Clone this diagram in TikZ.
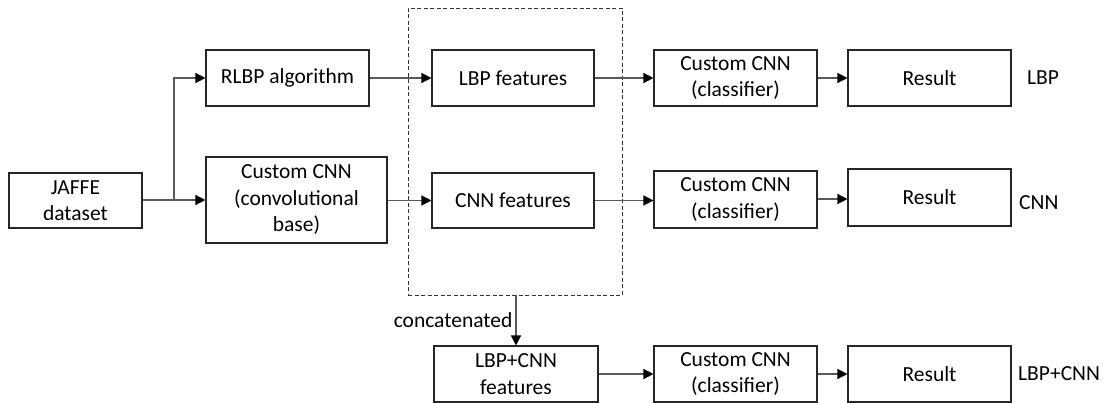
\documentclass[tikz,border=0pt]{standalone}
\usepackage{fontspec}
\setmainfont{Carlito}
\usetikzlibrary{arrows.meta,positioning}
\begin{document}
\begin{tikzpicture}[x=1pt,y=-1pt,
  every node/.style={font=\fontsize{21.5}{26.5}\selectfont},
  box/.style={draw=black!85, line width=1.1pt, inner sep=0pt, align=center,
              minimum width=163pt, minimum height=56pt},
  link/.style={draw=black!65, line width=1.3pt,
               -{Triangle[length=10pt,width=10pt,color=black]}},
  plain/.style={draw=black!65, line width=1.3pt},
  grp/.style={draw=black!80, line width=0.9pt, dash pattern=on 4pt off 2.5pt}]
  \useasboundingbox (0,0) rectangle (1105,403);

  % input and the two extraction branches
  \node[box, minimum width=133pt, minimum height=55pt] (jaffe) at (75.5,200.5) {JAFFE\\dataset};
  \node[box] (rlbp) at (287.5,78) {RLBP algorithm};
  \node[box, minimum width=181pt, minimum height=86pt] (conv) at (296.5,200) {Custom CNN\\(convolutional\\base)};

  % feature sets
  \node[box, minimum width=162pt] (lbpf) at (513,78) {LBP features};
  \node[box, minimum width=162pt, minimum height=55pt] (cnnf) at (513,200.5) {CNN features};
  \node[grp, inner sep=0pt, minimum width=214pt, minimum height=287pt] (grpbox) at (515,151.5) {};
  \node[box, minimum width=164pt] (both) at (516,374) {LBP+CNN\\features};

  % classifiers
  \node[box] (clf1) at (735.5,78) {Custom CNN\\(classifier)};
  \node[box, minimum height=57pt] (clf2) at (735.5,199.5) {Custom CNN\\(classifier)};
  \node[box] (clf3) at (735.5,374) {Custom CNN\\(classifier)};

  % results
  \node[box] (res1) at (929.5,78) {Result};
  \node[box, minimum height=57pt] (res2) at (929.5,197.5) {Result};
  \node[box] (res3) at (929.5,374) {Result};

  % row labels
  \node[anchor=west, inner sep=0pt] (lab1) at (1027,78) {LBP};
  \node[anchor=west, inner sep=0pt] (lab2) at (1019,203) {CNN};
  \node[anchor=west, inner sep=0pt] (lab3) at (1018,374) {LBP+CNN};

  % connectors
  \coordinate (split) at (174,200);
  \draw[plain] (jaffe.east |- split) -- (split);
  \draw[link] (split) -- (conv.west |- split);
  \draw[link] (split) |- (rlbp.west);
  \draw[link] (rlbp.east) -- (lbpf.west);
  \draw[link] (conv.east |- cnnf.west) -- (cnnf.west);
  \draw[link] (lbpf.east) -- (clf1.west);
  \draw[link] (cnnf.east) -- (cnnf.east -| clf2.west);
  \draw[link] (clf1.east) -- (res1.east -| res1.west);
  \draw[link] (clf2.east |- 0,199) -- (res2.west |- 0,199);
  \draw[link] (grpbox.south -| both.north) -- node[left=3pt, inner sep=0pt] (cat) {concatenated} (both.north);
  \draw[link] (both.east) -- (clf3.west);
  \draw[link] (clf3.east) -- (res3.west);
\end{tikzpicture}
\end{document}
